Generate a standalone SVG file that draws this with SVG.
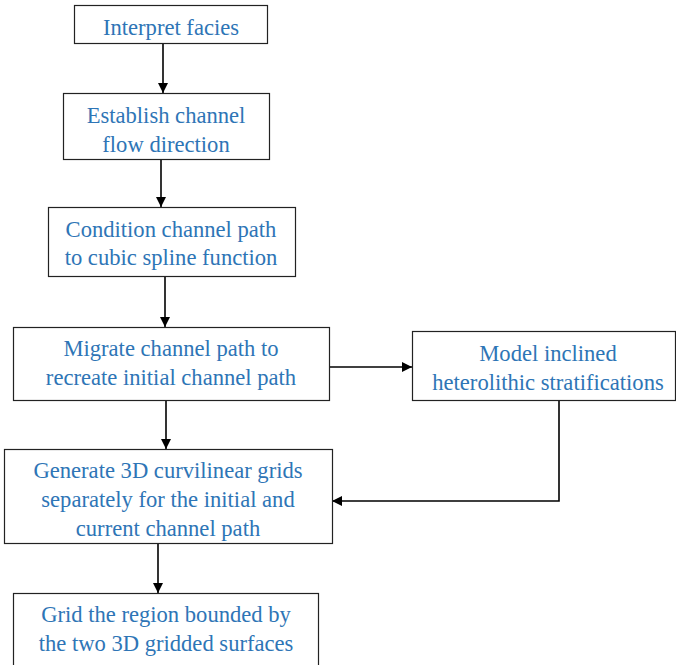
<svg xmlns="http://www.w3.org/2000/svg" width="676" height="665" viewBox="0 0 676 665">
<style>
.box{fill:#fff;stroke:#222;stroke-width:1.2}
.t{font-family:'Liberation Serif','Times New Roman',serif;font-size:22.6px;fill:#2E75B6;text-anchor:middle}
.c{fill:none;stroke:#000;stroke-width:1.6}
</style>
<defs>
<marker id="ah" viewBox="0 0 10 10" refX="10" refY="5" markerWidth="10" markerHeight="10" markerUnits="userSpaceOnUse" orient="auto">
<path d="M0,0 L10,5 L0,10 z" fill="#000"/>
</marker>
</defs>
<g id="connectors">
<line class="c" x1="163" y1="43" x2="163" y2="93" marker-end="url(#ah)"/>
<line class="c" x1="161" y1="160" x2="161" y2="207" marker-end="url(#ah)"/>
<line class="c" x1="165" y1="276" x2="165" y2="327" marker-end="url(#ah)"/>
<line class="c" x1="329" y1="367" x2="412" y2="367" marker-end="url(#ah)"/>
<polyline class="c" points="559,400 559,501 332,501" marker-end="url(#ah)"/>
<line class="c" x1="166" y1="400" x2="166" y2="449" marker-end="url(#ah)"/>
<line class="c" x1="158" y1="543" x2="158" y2="593" marker-end="url(#ah)"/>
</g>
<g id="n1"><rect class="box" x="74.5" y="5.5" width="193" height="38"/><text class="t" x="171" y="34.5">Interpret facies</text></g>
<g id="n2"><rect class="box" x="63.5" y="93.5" width="206" height="66"/><text class="t" x="166" y="123">Establish channel</text><text class="t" x="166" y="152">flow direction</text></g>
<g id="n3"><rect class="box" x="48.5" y="207.5" width="247" height="69"/><text class="t" x="171" y="237">Condition channel path</text><text class="t" x="171" y="265">to cubic spline function</text></g>
<g id="n4"><rect class="box" x="13.5" y="327.5" width="316" height="73"/><text class="t" x="171" y="356">Migrate channel path to</text><text class="t" x="171" y="385">recreate initial channel path</text></g>
<g id="n5"><rect class="box" x="412.5" y="331.5" width="263" height="69"/><text class="t" x="548" y="361">Model inclined</text><text class="t" x="548" y="390">heterolithic stratifications</text></g>
<g id="n6"><rect class="box" x="4.5" y="449.5" width="328" height="94"/><text class="t" x="168" y="478">Generate 3D curvilinear grids</text><text class="t" x="168" y="507">separately for the initial and</text><text class="t" x="168" y="536">current channel path</text></g>
<g id="n7"><rect class="box" x="13.5" y="593.5" width="305" height="80"/><text class="t" x="166" y="622">Grid the region bounded by</text><text class="t" x="166" y="651">the two 3D gridded surfaces</text></g>
</svg>
